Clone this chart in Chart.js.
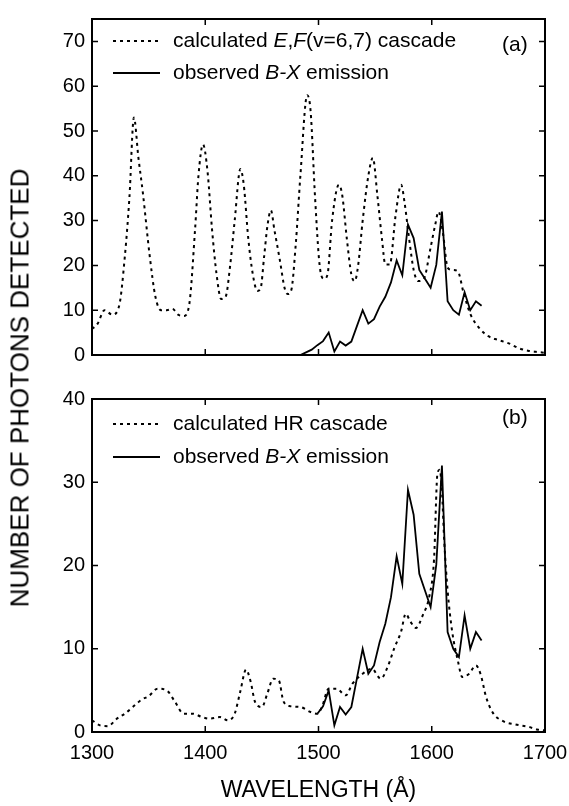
<!DOCTYPE html>
<html>
<head>
<meta charset="utf-8">
<title>Photon counts vs wavelength</title>
<script src="https://cdn.jsdelivr.net/npm/chart.js@4.4.1/dist/chart.umd.min.js"></script>
<style>
  html, body { margin: 0; padding: 0; background: #fff; }
  #wrap { position: relative; width: 569px; height: 806px; overflow: hidden; }
  #panelA { position: absolute; left: 0; top: 0; }
  #panelB { position: absolute; left: 0; top: 380px; }
  #ytitle {
    position: absolute; left: 20px; top: 388px;
    transform: translate(-50%, -50%) rotate(-90deg);
    font: 26px "Liberation Sans", Arial, sans-serif;
    color: #000; white-space: nowrap;
  }
</style>
</head>
<body>
<div id="wrap">
  <canvas id="panelA" width="569" height="380"></canvas>
  <canvas id="panelB" width="569" height="426"></canvas>
  <div id="ytitle">NUMBER OF PHOTONS DETECTED</div>
</div>
<script>
// ─── Data ─────────────────────────────────────────────────────────────────────

// (a) calculated E,F(v=6,7) cascade
const cascadeWaveA = [1300, 1305, 1311, 1318, 1324, 1329, 1333, 1337, 1341, 1345, 1351, 1356,
  1361, 1366, 1371, 1376, 1381, 1386, 1391, 1394, 1398, 1402, 1406, 1410, 1414, 1418, 1422,
  1426, 1431, 1434, 1438, 1442, 1446, 1449, 1452, 1455, 1458, 1461, 1466, 1470, 1473, 1476,
  1480, 1484, 1490, 1493, 1497, 1501, 1505, 1508, 1512, 1518, 1521, 1525, 1529, 1532, 1535,
  1539, 1544, 1548, 1552, 1556, 1559, 1563, 1568, 1573, 1576, 1580, 1584, 1588, 1593, 1599,
  1603, 1606, 1610, 1614, 1618, 1623, 1628, 1634, 1642, 1650, 1658, 1668, 1677, 1685, 1692, 1700];
const cascadeCountsA = [5.8, 7, 10, 9, 11, 22, 35, 53, 44, 36, 22, 13,
  10, 10, 10.3, 9, 8.7, 11.5, 28, 40, 47, 41, 28, 18, 12.5, 13, 20,
  30, 41.5, 38, 26, 18, 14.3, 15, 22, 29, 32.3, 28, 21, 15, 13.6, 14.5,
  25, 40, 58, 54.5, 35, 20, 17, 18, 30, 38, 35.6, 26, 18, 16.5, 20,
  30, 40, 44, 35.6, 26, 20.2, 20.2, 31, 38, 34, 26, 19, 16.5, 17, 24,
  29, 32, 27, 19.5, 19, 18.7, 14, 9.2, 6, 4.2, 3.4, 2.6, 1.5, 0.95, 0.7, 0.5];

// (b) calculated HR cascade
const cascadeWaveB = [1300, 1307, 1314, 1322, 1329, 1336, 1344, 1350, 1358, 1366, 1373, 1381,
  1389, 1397, 1404, 1413, 1420, 1426, 1431, 1436, 1440, 1444, 1450, 1455, 1460, 1465, 1469,
  1475, 1484, 1493, 1499, 1503, 1509, 1516, 1524, 1530, 1539, 1547, 1555, 1561, 1567, 1573,
  1577, 1581, 1586, 1592, 1598, 1602, 1605, 1607, 1609, 1611, 1614, 1618, 1623, 1627, 1633,
  1639, 1643, 1648, 1654, 1663, 1674, 1686, 1693, 1700];
const cascadeCountsB = [1.4, 0.8, 0.7, 1.6, 2.2, 3.0, 3.9, 4.3, 5.2, 5.0, 3.7, 2.2,
  2.2, 1.8, 1.6, 1.8, 1.4, 2.2, 4.9, 7.5, 6.1, 3.6, 3.0, 4.7, 6.4, 6.2, 3.7,
  3.1, 3.0, 2.4, 2.2, 3.0, 5.2, 5.2, 4.4, 5.8, 7.0, 7.6, 6.4, 7.8, 10.1, 12.1,
  14.2, 13.3, 12.5, 14.0, 16.4, 20.7, 31.0, 31.5, 29.0, 23.0, 17.0, 12.1, 8.6, 6.6, 7.0,
  8.0, 7.0, 4.2, 2.3, 1.3, 0.9, 0.6, 0.3, 0.2];

// observed B-X emission (same spectrum in both panels)
const observedWave = [1449, 1454, 1459, 1464, 1469, 1474, 1479, 1484, 1489, 1494, 1499, 1504,
  1509, 1514, 1519, 1524, 1529, 1534, 1539, 1544, 1549, 1554, 1559, 1564, 1569, 1574, 1579,
  1584, 1589, 1594, 1599, 1604, 1609, 1614, 1619, 1624, 1629, 1634, 1639, 1644];
const observedCounts = [0, 0, 0, 0, 0, 0, 0, 0, 0.6, 1.2, 2.2, 3.1,
  5.0, 0.8, 3.0, 2.1, 3.0, 6.5, 10.0, 7.0, 8.0, 10.8, 13.0, 16.2, 21.1, 17.8, 29.1,
  26.1, 19.0, 17.0, 15.0, 20.1, 32.0, 12.0, 10.0, 9.0, 14.0, 10.0, 12.0, 11.0];
const observedStartB = 1499;   // panel (b) trace begins here

const waveTicks = [1300, 1400, 1500, 1600, 1700];

// ─── Styling ──────────────────────────────────────────────────────────────────

const FONT = '"Liberation Sans", Arial, sans-serif';
const DOT = [3, 4];
const TICK = 6;

Chart.defaults.font.family = FONT;
Chart.defaults.color = '#000';
Chart.defaults.animation = false;

const toPoints = (xs, ys) => xs.map((x, i) => ({ x, y: ys[i] }));

// box frame + inward ticks on all four sides
const frameTicks = {
  id: 'frameTicks',
  afterDraw(chart) {
    const { ctx, chartArea: a, scales: { x, y } } = chart;
    ctx.save();
    ctx.strokeStyle = '#000';
    ctx.lineWidth = 2;
    ctx.strokeRect(a.left, a.top, a.right - a.left, a.bottom - a.top);
    ctx.lineWidth = 1.5;
    ctx.beginPath();
    x.ticks.forEach(t => {
      const px = x.getPixelForValue(t.value);
      ctx.moveTo(px, a.bottom); ctx.lineTo(px, a.bottom - TICK);
      ctx.moveTo(px, a.top); ctx.lineTo(px, a.top + TICK);
    });
    y.ticks.forEach(t => {
      const py = y.getPixelForValue(t.value);
      ctx.moveTo(a.left, py); ctx.lineTo(a.left + TICK, py);
      ctx.moveTo(a.right, py); ctx.lineTo(a.right - TICK, py);
    });
    ctx.stroke();
    ctx.restore();
  }
};

// legend drawn inside the plot, with italic runs for the state labels
const insetLegend = {
  id: 'insetLegend',
  afterDraw(chart, args, opts) {
    const { ctx } = chart;
    ctx.save();
    ctx.fillStyle = '#000';
    ctx.strokeStyle = '#000';
    ctx.textBaseline = 'middle';
    opts.rows.forEach((row, i) => {
      const y = opts.rowY[i];
      ctx.lineWidth = row.dotted ? 2 : 1.8;
      ctx.setLineDash(row.dotted ? DOT : []);
      ctx.beginPath();
      ctx.moveTo(113, y);
      ctx.lineTo(160, y);
      ctx.stroke();
      let x = 173;
      row.text.forEach(([s, italic]) => {
        ctx.font = (italic ? 'italic ' : '') + '21px ' + FONT;
        ctx.fillText(s, x, y);
        x += ctx.measureText(s).width;
      });
    });
    ctx.font = '21px ' + FONT;
    ctx.fillText(opts.tag, 502, opts.tagY);
    ctx.restore();
  }
};

function panelOptions({ yMax, showX, xHeight, padTop, legend }) {
  return {
    responsive: false,
    layout: { padding: { left: 0, right: 24, top: padTop, bottom: 0 } },
    plugins: {
      legend: { display: false },
      tooltip: { enabled: false },
      insetLegend: legend,
    },
    scales: {
      x: {
        type: 'linear', min: 1300, max: 1700,
        afterBuildTicks: s => { s.ticks = waveTicks.map(value => ({ value })); },
        // fixed height; edge labels fit inside the page margins already
        afterFit: s => { s.height = xHeight; s.paddingLeft = 0; s.paddingRight = 0; },
        grid: { display: false, drawTicks: false },
        border: { display: false },
        ticks: { display: showX, padding: 9, font: { size: 20 }, callback: v => String(v) },
        title: {
          display: showX, text: 'WAVELENGTH (Å)',
          font: { size: 23 }, padding: { top: 0, bottom: 2 },
        },
      },
      y: {
        min: 0, max: yMax,
        afterBuildTicks: s => { s.ticks = s.ticks.filter(t => t.value % 10 === 0); },
        afterFit: s => { s.width = 92; },
        grid: { display: false, drawTicks: false },
        border: { display: false },
        ticks: { stepSize: 10, padding: 7, font: { size: 20 } },
      },
    },
  };
}

const cascadeStyle = {
  borderColor: '#000', borderWidth: 2, borderDash: DOT, borderCapStyle: 'butt',
  pointRadius: 0, cubicInterpolationMode: 'monotone', fill: false,
};
const observedStyle = {
  borderColor: '#000', borderWidth: 1.8, pointRadius: 0, tension: 0, fill: false,
};

// ─── Panel (a) ────────────────────────────────────────────────────────────────

new Chart(document.getElementById('panelA'), {
  type: 'line',
  data: {
    datasets: [
      { ...cascadeStyle, data: toPoints(cascadeWaveA, cascadeCountsA) },
      { ...observedStyle, data: toPoints(observedWave, observedCounts) },
    ]
  },
  options: panelOptions({
    yMax: 75, showX: false, xHeight: 25, padTop: 13,
    legend: {
      rowY: [41, 73], tag: '(a)', tagY: 45,
      rows: [
        { dotted: true, text: [['calculated ', false], ['E', true], [',', false], ['F', true], ['(v=6,7) cascade', false]] },
        { dotted: false, text: [['observed ', false], ['B-X', true], [' emission', false]] },
      ],
    },
  }),
  plugins: [frameTicks, insetLegend],
});

// ─── Panel (b) ────────────────────────────────────────────────────────────────

const startB = observedWave.indexOf(observedStartB);

new Chart(document.getElementById('panelB'), {
  type: 'line',
  data: {
    datasets: [
      { ...cascadeStyle, data: toPoints(cascadeWaveB, cascadeCountsB) },
      { ...observedStyle, data: toPoints(observedWave.slice(startB), observedCounts.slice(startB)) },
    ]
  },
  options: panelOptions({
    yMax: 40, showX: true, xHeight: 74, padTop: 12,
    legend: {
      rowY: [44, 77], tag: '(b)', tagY: 38,
      rows: [
        { dotted: true, text: [['calculated HR cascade', false]] },
        { dotted: false, text: [['observed ', false], ['B-X', true], [' emission', false]] },
      ],
    },
  }),
  plugins: [frameTicks, insetLegend],
});
</script>
</body>
</html>
